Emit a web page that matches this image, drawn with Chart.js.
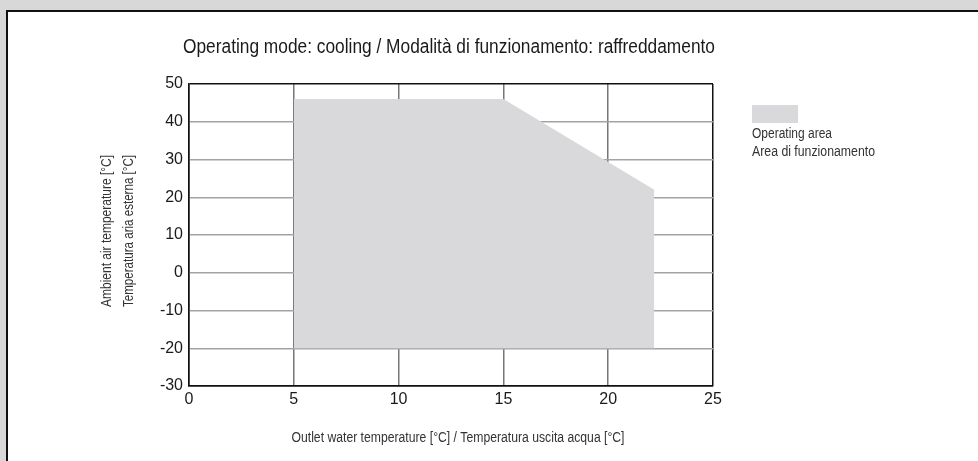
<!DOCTYPE html>
<html>
<head>
<meta charset="utf-8">
<script src="https://cdn.jsdelivr.net/npm/chart.js@4/dist/chart.umd.min.js"></script>
<style>
  html, body { margin: 0; padding: 0; background: #d8d8d8; }
  #frame { position: absolute; left: 6px; top: 10px; width: 980px; height: 460px;
           background: #fff; border-left: 2px solid #111; border-top: 2px solid #111; }
  #chart { position: absolute; left: 0; top: 0; }
</style>
</head>
<body>
<div id="frame"></div>
<canvas id="chart" width="978" height="461"></canvas>
<script>
// operating envelope, upper edge and lower limit
var waterTemp = [5, 15, 22.2];
var airTempMax = [46, 46, 22];
var airTempMin = -20;

var xTicks = [0, 5, 10, 15, 20, 25];
var yTicks = [-30, -20, -10, 0, 10, 20, 30, 40, 50];

var titleText = 'Operating mode: cooling / Modalità di funzionamento: raffreddamento';
var xTitle = 'Outlet water temperature [°C] / Temperatura uscita acqua [°C]';
var yTitle = ['Ambient air temperature [°C]', 'Temperatura aria esterna [°C]'];
var legendLines = ['Operating area', 'Area di funzionamento'];

var areaColor = '#d9d9db';
var sans = '"Liberation Sans", Arial, sans-serif';

var points = waterTemp.map(function(x, i){ return {x: x, y: airTempMax[i]}; });

// the original uses a condensed face, so squeeze text into its width
function squeezed(ctx, text, x, y, w){
    var natural = ctx.measureText(text).width;
    ctx.save();
    ctx.translate(x, y);
    ctx.scale(Math.min(1, w / natural), 1);
    ctx.fillText(text, 0, 0);
    ctx.restore();
}

var extras = {
    id: 'extras',
    afterDraw: function(chart){
        var ctx = chart.ctx;
        ctx.save();
        ctx.textBaseline = 'middle';

        ctx.fillStyle = '#1a1a1a';
        ctx.font = '20px ' + sans;
        ctx.textAlign = 'center';
        squeezed(ctx, titleText, 449, 47, 532);

        ctx.fillStyle = '#333';
        ctx.font = '14px ' + sans;
        squeezed(ctx, xTitle, 458, 438, 333);

        ctx.save();
        ctx.translate(107, 231);
        ctx.rotate(-Math.PI / 2);
        yTitle.forEach(function(t, i){
            squeezed(ctx, t, 0, i * 22, 152);
        });
        ctx.restore();

        ctx.fillStyle = areaColor;
        ctx.fillRect(752, 105, 46, 18);
        ctx.fillStyle = '#333';
        ctx.textAlign = 'left';
        squeezed(ctx, legendLines[0], 752, 134, 80);
        squeezed(ctx, legendLines[1], 752, 152, 123);
        ctx.restore();
    }
};

function edgeColor(max, min, c){
    return function(ctx){
        var v = ctx.tick.value;
        return (v === max || v === min) ? '#111' : c;
    };
}

var chart = new Chart(document.getElementById('chart').getContext('2d'), {
    type: 'line',
    data: {
        datasets: [{
            label: legendLines[0],
            data: points,
            borderWidth: 0,
            borderColor: 'rgba(0,0,0,0)',
            backgroundColor: areaColor,
            pointRadius: 0,
            fill: {value: airTempMin},
            tension: 0
        }]
    },
    options: {
        responsive: false,
        animation: false,
        events: [],
        layout: { padding: {left: 0, top: 84, right: 265, bottom: 0} },
        plugins: { legend: {display: false}, title: {display: false}, tooltip: {enabled: false} },
        scales: {
            x: {
                type: 'linear',
                min: xTicks[0],
                max: xTicks[xTicks.length - 1],
                z: 1,
                afterBuildTicks: function(s){ s.ticks = xTicks.map(function(v){ return {value: v}; }); },
                afterFit: function(s){ s.height = 461 - 386; },
                grid: { color: edgeColor(25, 0, '#777'), lineWidth: 1.5, drawTicks: false },
                border: { color: '#111', width: 1.5 },
                ticks: { padding: 4, color: '#1a1a1a', font: {family: sans, size: 16}, maxRotation: 0 }
            },
            y: {
                type: 'linear',
                min: yTicks[0],
                max: yTicks[yTicks.length - 1],
                z: 1,
                afterBuildTicks: function(s){ s.ticks = yTicks.map(function(v){ return {value: v}; }); },
                afterFit: function(s){ s.width = 189; },
                grid: { color: edgeColor(50, -30, '#a3a3a3'), lineWidth: 1.5, drawTicks: false },
                border: { color: '#111', width: 1.5 },
                ticks: { padding: 6, color: '#1a1a1a', font: {family: sans, size: 16} }
            }
        }
    },
    plugins: [extras]
});
</script>
</body>
</html>
